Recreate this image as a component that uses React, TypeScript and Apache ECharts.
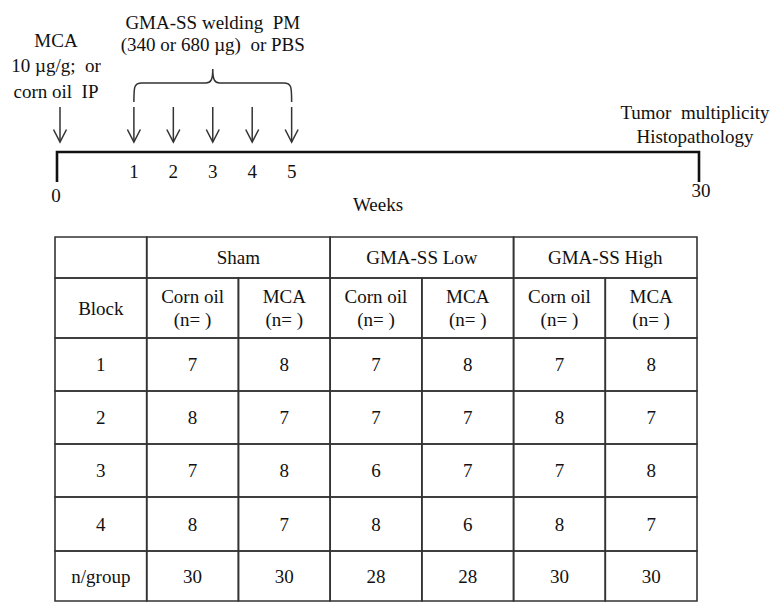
import React, { useEffect, useRef } from "react";
import * as echarts from "echarts";

// ---------- data ----------
const weekTicks = [0, 1, 2, 3, 4, 5, 30];
const mcaWeeks = [0];
const exposureWeeks = [1, 2, 3, 4, 5];
const endWeek = 30;
const mcaLabel = ["MCA", "10 µg/g;  or", "corn oil  IP"];
const exposureLabel = ["GMA-SS welding  PM", "(340 or 680 µg)  or PBS"];
const endpointLabel = ["Tumor  multiplicity", "Histopathology"];
const axisTitle = "Weeks";

const groups = ["Sham", "GMA-SS Low", "GMA-SS High"];
const treatments = ["Corn oil", "MCA"];
const nLabel = "(n= )";
const blockHeader = "Block";
const blocks = ["1", "2", "3", "4"];
const block1 = [7, 8, 7, 8, 7, 8];
const block2 = [8, 7, 7, 7, 8, 7];
const block3 = [7, 8, 6, 7, 7, 8];
const block4 = [8, 7, 8, 6, 8, 7];
const totalLabel = "n/group";
const nPerGroup = [30, 30, 28, 28, 30, 30];

// ---------- layout ----------
const FONT = "'Liberation Serif', 'Times New Roman', Times, serif";
const FS = 19;
const INK = "#111";
const LINE = "#333";
// schematic (non-linear) placement of weeks along the timeline
const schematicX = (w: number) => (w === 0 ? 0 : w <= 5 ? w + 0.95 : 16.28);
const ROW_EDGES = [0, 41, 101, 154, 207, 260, 314, 364];

type Cell = { col: number; row: number; span: number; text: string };
const cells: Cell[] = [];
cells.push({ col: 0, row: 0, span: 1, text: "" });
groups.forEach((g, i) => cells.push({ col: 1 + 2 * i, row: 0, span: 2, text: g }));
cells.push({ col: 0, row: 1, span: 1, text: blockHeader });
groups.forEach((_g, i) =>
  treatments.forEach((t, j) =>
    cells.push({ col: 1 + 2 * i + j, row: 1, span: 1, text: t + "\n" + nLabel })
  )
);
[block1, block2, block3, block4].forEach((vals, r) => {
  cells.push({ col: 0, row: 2 + r, span: 1, text: blocks[r] });
  vals.forEach((v, c) => cells.push({ col: 1 + c, row: 2 + r, span: 1, text: String(v) }));
});
cells.push({ col: 0, row: 6, span: 1, text: totalLabel });
nPerGroup.forEach((v, c) => cells.push({ col: 1 + c, row: 6, span: 1, text: String(v) }));

const annotations = [
  { week: mcaWeeks[0], lines: mcaLabel, dx: -1, dy: -86.5, lh: 25.5 },
  { week: (exposureWeeks[0] + exposureWeeks[exposureWeeks.length - 1]) / 2, lines: exposureLabel, dx: 0, dy: -119, lh: 22 },
  { week: endWeek, lines: endpointLabel, dx: -4, dy: -28, lh: 24 },
];

const textStyle = (text: string, x: number, y: number, lh = 23) => ({
  text,
  x,
  y,
  align: "center",
  verticalAlign: "middle",
  fill: INK,
  font: `${FS}px ${FONT}`,
  fontSize: FS,
  fontFamily: FONT,
  lineHeight: lh,
});

export default function App() {
  const ref = useRef<HTMLDivElement>(null);
  useEffect(() => {
    if (!ref.current) return;
    const chart = echarts.init(ref.current, undefined, { renderer: "svg" });
    const option: any = {
      animation: false,
      backgroundColor: "#fff",
      textStyle: { fontFamily: FONT },
      grid: [
        { left: 57, top: 0, width: 642, height: 152 },
        { left: 55, top: 237, width: 642, height: 364 },
      ],
      xAxis: [
        {
          type: "value",
          gridIndex: 0,
          min: 0,
          max: schematicX(endWeek),
          show: true,
          name: axisTitle,
          nameLocation: "middle",
          nameGap: 43,
          nameTextStyle: { color: INK, fontSize: FS, fontFamily: FONT },
          axisLine: { show: false },
          axisTick: { show: false },
          axisLabel: { show: false },
          splitLine: { show: false },
        },
        { type: "value", gridIndex: 1, min: 0, max: 7, show: false },
      ],
      yAxis: [
        { type: "value", gridIndex: 0, min: 0, max: 152, show: false },
        { type: "value", gridIndex: 1, min: 0, max: ROW_EDGES[ROW_EDGES.length - 1], inverse: true, show: false },
      ],
      series: [
        {
          type: "custom",
          name: "timeline",
          xAxisIndex: 0,
          yAxisIndex: 0,
          data: [[schematicX(0), 0, schematicX(endWeek), 0]],
          encode: { x: [0, 2], y: [1, 3] },
          renderItem: (_p: any, api: any) => {
            const a = api.coord([api.value(0), api.value(1)]);
            const b = api.coord([api.value(2), api.value(3)]);
            return {
              type: "polyline",
              shape: { points: [[a[0], a[1] + 30], [a[0], a[1]], [b[0], b[1]], [b[0], b[1] + 30]] },
              style: { fill: "none", stroke: INK, lineWidth: 2.6 },
            };
          },
        },
        {
          type: "custom",
          name: "weeks",
          xAxisIndex: 0,
          yAxisIndex: 0,
          data: weekTicks.map((w) => [schematicX(w), 0, w]),
          encode: { x: 0, y: 1 },
          renderItem: (_p: any, api: any) => {
            const w = api.value(2);
            const a = api.coord([api.value(0), api.value(1)]);
            const dx = w === 0 ? -1 : w === endWeek ? 2 : 0;
            const dy = w === 0 ? 43 : w === endWeek ? 38 : 19;
            return { type: "text", style: textStyle(String(w), a[0] + dx, a[1] + dy) };
          },
        },
        {
          type: "custom",
          name: "arrows",
          xAxisIndex: 0,
          yAxisIndex: 0,
          data: [...mcaWeeks, ...exposureWeeks].map((w) => [schematicX(w), 0, w]),
          encode: { x: 0, y: 1 },
          renderItem: (_p: any, api: any) => {
            const w = api.value(2);
            const a = api.coord([api.value(0), api.value(1)]);
            const x = a[0] + (w === 0 ? 3 : 0);
            const tip = a[1] - 10;
            return {
              type: "group",
              children: [
                { type: "line", shape: { x1: x, y1: a[1] - 45, x2: x, y2: tip }, style: { stroke: LINE, lineWidth: 1.5 } },
                {
                  type: "polyline",
                  shape: { points: [[x - 6.5, tip - 12.5], [x, tip], [x + 6.5, tip - 12.5]] },
                  style: { fill: "none", stroke: LINE, lineWidth: 1.5 },
                },
              ],
            };
          },
        },
        {
          type: "custom",
          name: "brace",
          xAxisIndex: 0,
          yAxisIndex: 0,
          data: [[schematicX(exposureWeeks[0]), 0, schematicX(exposureWeeks[exposureWeeks.length - 1]), 0]],
          encode: { x: [0, 2], y: [1, 3] },
          renderItem: (_p: any, api: any) => {
            const a = api.coord([api.value(0), api.value(1)]);
            const b = api.coord([api.value(2), api.value(3)]);
            const x1 = a[0];
            const x5 = b[0];
            const xm = (x1 + x5) / 2;
            const yb = a[1] - 50;
            const yh = a[1] - 69;
            const yp = a[1] - 83;
            const d =
              `M${x1},${yb} C${x1},${yh + 4} ${x1},${yh} ${x1 + 8},${yh} ` +
              `L${xm - 7},${yh} C${xm - 2},${yh} ${xm},${yh - 3} ${xm},${yp} ` +
              `C${xm},${yh - 3} ${xm + 2},${yh} ${xm + 7},${yh} ` +
              `L${x5 - 8},${yh} C${x5},${yh} ${x5},${yh + 4} ${x5},${yb}`;
            return { type: "path", shape: { pathData: d }, style: { fill: "none", stroke: LINE, lineWidth: 1.5 } };
          },
        },
        {
          type: "custom",
          name: "annotations",
          xAxisIndex: 0,
          yAxisIndex: 0,
          data: annotations.map((n) => [schematicX(n.week), 0]),
          encode: { x: 0, y: 1 },
          renderItem: (p: any, api: any) => {
            const n = annotations[p.dataIndex];
            const a = api.coord([api.value(0), api.value(1)]);
            return { type: "text", style: textStyle(n.lines.join("\n"), a[0] + n.dx, a[1] + n.dy, n.lh) };
          },
        },
        {
          type: "custom",
          name: "table",
          xAxisIndex: 1,
          yAxisIndex: 1,
          data: cells.map((c) => [c.col, ROW_EDGES[c.row], c.col + c.span, ROW_EDGES[c.row + 1]]),
          encode: { x: [0, 2], y: [1, 3] },
          renderItem: (p: any, api: any) => {
            const c = cells[p.dataIndex];
            const a = api.coord([api.value(0), api.value(1)]);
            const b = api.coord([api.value(2), api.value(3)]);
            return {
              type: "group",
              children: [
                {
                  type: "rect",
                  shape: { x: a[0], y: a[1], width: b[0] - a[0], height: b[1] - a[1] },
                  style: { fill: "none", stroke: LINE, lineWidth: 1.6 },
                },
                { type: "text", style: textStyle(c.text, (a[0] + b[0]) / 2, (a[1] + b[1]) / 2, 23) },
              ],
            };
          },
        },
      ],
    };
    chart.setOption(option);
    return () => chart.dispose();
  }, []);
  return (
    <div
      ref={ref}
      style={{ position: "fixed", left: 0, top: 0, width: 772, height: 603, background: "#fff" }}
    />
  );
}
